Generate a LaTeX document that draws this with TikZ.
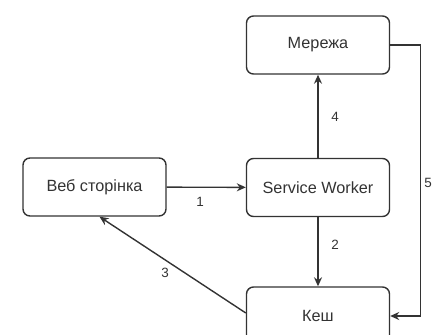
\documentclass[tikz,border=0pt]{standalone}
\usepackage{fontspec}
\setmainfont{Liberation Sans}
\usetikzlibrary{arrows.meta}
\definecolor{ln}{HTML}{333333}
\tikzset{
  box/.style={draw=ln, line width=1.4bp, rounded corners=7bp, minimum width=143bp, minimum height=58bp, inner sep=0pt, font=\fontsize{16.3}{18}\selectfont, text=ln, fill=white},
  conn/.style={draw=ln, line width=1.4bp, -{Stealth[length=9bp,width=8bp]}},
  lbl/.style={font=\fontsize{13.5}{15}\selectfont, text=ln, inner sep=0pt}
}
\begin{document}
\begin{tikzpicture}[x=1bp,y=-1bp]
\useasboundingbox (0,0) rectangle (432,335);
\clip (0,0) rectangle (432,335);
\node[box] (veb) at (94.5,187) {Веб сторінка};
\node[box] (sw) at (318,187.5) {Service Worker};
\node[box] (mer) at (318,45) {Мережа};
\node[box] (kesh) at (318,316) {Кеш};
\draw[conn] (veb) -- (sw);
\draw[conn] (sw) -- (kesh);
\draw[conn] (sw) -- (mer);
\draw[conn] (mer.east) -- ++(30,0) |- (kesh.east);
\draw[conn] ([yshift=3bp]kesh.west) -- ([xshift=5bp]veb.south);
\node[lbl] (l1) at (200,202) {1};
\node[lbl] (l2) at (335,245) {2};
\node[lbl] (l4) at (335,117) {4};
\node[lbl] (l3) at (165,273) {3};
\node[lbl] (l5) at (428,183) {5};
\end{tikzpicture}
\end{document}
